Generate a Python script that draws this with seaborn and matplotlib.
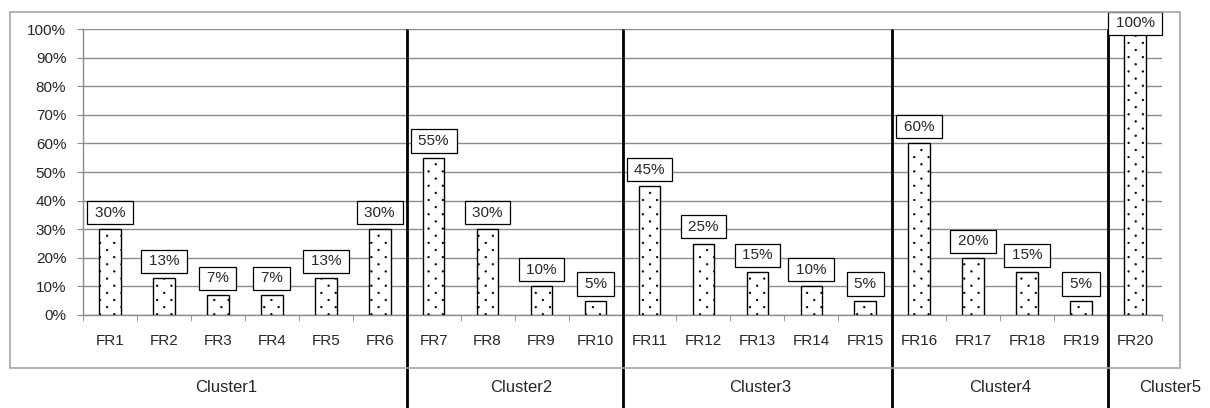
import matplotlib
matplotlib.use("Agg")
import matplotlib.pyplot as plt
import matplotlib.patches as mpatches
import matplotlib.transforms as mtransforms
from matplotlib import hatch as mhatch
from matplotlib.path import Path
import numpy as np
import pandas as pd
import seaborn as sns

# dati
categories = ["FR1", "FR2", "FR3", "FR4", "FR5", "FR6", "FR7", "FR8", "FR9", "FR10",
              "FR11", "FR12", "FR13", "FR14", "FR15", "FR16", "FR17", "FR18", "FR19", "FR20"]
values = [30, 13, 7, 7, 13, 30, 55, 30, 10, 5, 45, 25, 15, 10, 5, 60, 20, 15, 5, 100]
clusters = ["Cluster1", "Cluster2", "Cluster3", "Cluster4", "Cluster5"]
cluster_sizes = [6, 4, 5, 4, 1]
# spostamento orizzontale delle etichette dei cluster (in categorie)
cluster_shift = [-0.35, 0.13, 0.05, 0.0, 0.65]


# retino a punti come in Excel: righe più fitte delle colonne
class FineDots(mhatch.HatchPatternBase):
    def __init__(self, hatch, density):
        self.circle = Path.unit_circle()
        ncol = hatch.count(".") * 7
        if ncol == 0:
            self.points = np.empty((0, 2))
            self.num_vertices = 0
            return
        nrow = 2 * ncol
        pts = []
        for r in range(nrow + 1):
            if r % 2 == 0:
                xs = np.linspace(0, 1, ncol + 1)
            else:
                xs = np.linspace(0.5 / ncol, 1 - 0.5 / ncol, ncol)
            pts += [(x, r / nrow) for x in xs]
        self.points = np.array(pts)
        self.num_vertices = len(self.points) * len(self.circle.vertices)

    def set_vertices_and_codes(self, vertices, codes):
        nv = len(self.circle.vertices)
        shape = self.circle.vertices * 0.007
        for k, (x, y) in enumerate(self.points):
            vertices[k * nv:(k + 1) * nv] = shape + (x, y)
            codes[k * nv:(k + 1) * nv] = self.circle.codes


mhatch._hatch_types = [FineDots if h is mhatch.SmallFilledCircles else h
                       for h in mhatch._hatch_types]

sns.set_style("white")
plt.rcParams["font.family"] = ["Liberation Sans", "DejaVu Sans"]
plt.rcParams["hatch.linewidth"] = 0.6
plt.rcParams["hatch.color"] = "#222222"

df = pd.DataFrame({"cat": categories, "val": np.array(values) / 100})

fig = plt.figure(figsize=(12.1, 4.08), dpi=100)
ax = fig.add_axes([83 / 1210, 1 - 315 / 408, (1162 - 83) / 1210, (315 - 29) / 408])

# cornice grigia esterna
frame = mpatches.Rectangle((10 / 1210, 1 - 368 / 408), 1170 / 1210, 356 / 408,
                           transform=fig.transFigure, fill=False,
                           edgecolor="#a6a6a6", linewidth=1.2, zorder=0)
fig.patches.append(frame)

sns.barplot(data=df, x="cat", y="val", color="white", saturation=1,
            edgecolor="black", linewidth=1, width=0.4, ax=ax, zorder=3)
for p in ax.patches:
    p.set_hatch(".")

ax.set_xlim(-0.5, len(categories) - 0.5)
ax.set_ylim(0, 1)
ax.set_yticks(np.arange(0, 1.01, 0.1))
ax.set_yticklabels([f"{int(round(t * 100))}%" for t in np.arange(0, 1.01, 0.1)])
ax.yaxis.grid(True, color="#8c8c8c", linewidth=1)
ax.set_axisbelow(True)
ax.set_xlabel("")
ax.set_ylabel("")

for s in ["top", "right"]:
    ax.spines[s].set_visible(False)
for s in ["left", "bottom"]:
    ax.spines[s].set_color("#8c8c8c")
    ax.spines[s].set_linewidth(1)

ax.tick_params(axis="y", length=4, color="#8c8c8c", pad=8, labelsize=11, left=True)
ax.tick_params(axis="x", which="major", length=0, pad=14, labelsize=11)
ax.set_xticks(np.arange(-0.5, len(categories), 1), minor=True)
ax.tick_params(axis="x", which="minor", length=4, color="#8c8c8c", bottom=True)

# etichette dei valori in riquadri
for i, v in enumerate(values):
    off = 4 if v >= 100 else 12
    ax.annotate(f"\u2009{v}%\u2009", (i, v / 100), xytext=(0, off), textcoords="offset points",
                ha="center", va="center", fontsize=11, zorder=6, annotation_clip=False,
                bbox=dict(boxstyle="square,pad=0.3", fc="white", ec="black", lw=0.9))

# linee di separazione dei cluster ed etichette
trans = mtransforms.blended_transform_factory(ax.transData, fig.transFigure)
bounds = np.cumsum(cluster_sizes)
starts = np.concatenate([[0], bounds[:-1]])
for b in bounds[:-1]:
    ax.plot([b - 0.5, b - 0.5], [0, 1 - 30 / 408], transform=trans, color="black",
            linewidth=2, clip_on=False, zorder=5)
for name, s, n, dx in zip(clusters, starts, cluster_sizes, cluster_shift):
    ax.text(s + n / 2 - 0.5 + dx, 1 - 388 / 408, name, transform=trans, ha="center",
            va="center", fontsize=12, clip_on=False)

plt.savefig("out.png", dpi=100)
